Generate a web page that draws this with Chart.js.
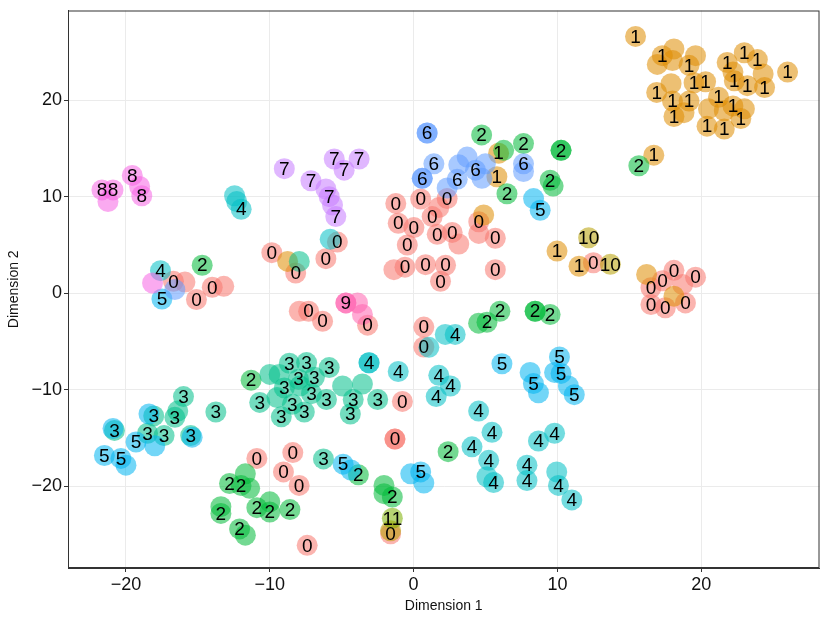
<!DOCTYPE html>
<html lang="en">
<head>
<meta charset="UTF-8">
<title>Digits embedding</title>
<script src="https://cdn.jsdelivr.net/npm/chart.js"></script>
<style>
  html, body { margin: 0; padding: 0; background: #fff; }
</style>
</head>
<body>
<canvas id="embed" width="830" height="623"></canvas>
<script>
// class names (factor order) and one small array of [dim1, dim2, labelShown] per class
const classes = ['0', '1', '10', '11', '2', '3', '4', '5', '6', '7', '8', '9'];

const pts0 = [[-1.24,9.3,1],[0.49,9.76,1],[-1.07,7.25,1],[0.02,6.8,1],[-0.44,5.0,1],[1.29,7.94,1],[1.75,8.87,0],
  [2.33,9.8,1],[1.64,6.1,1],[2.68,6.3,1],[3.14,5.1,0],[4.53,7.4,1],[4.53,6.2,0],[5.68,5.7,1],[-1.37,2.44,0],
  [-0.6,2.7,1],[0.83,2.96,1],[2.22,2.9,1],[1.87,1.24,1],[5.68,2.44,1],[-5.3,5.3,1],[-6.1,3.58,1],[-8.2,2.1,1],
  [-9.86,4.2,1],[-7.95,-1.86,0],[-7.3,-1.86,1],[-6.33,-2.9,1],[-3.2,-3.3,1],[0.71,-3.5,1],[0.71,-5.57,1],
  [-16.7,1.24,1],[-15.9,1.16,0],[-15.1,-0.65,1],[-14.0,0.62,1],[-13.2,0.72,0],[-0.78,-11.2,1],[-1.3,-15.1,0],
  [-1.3,-15.1,1],[-10.9,-17.1,1],[-8.4,-16.5,1],[-9.05,-18.5,1],[-7.96,-19.9,1],[-7.4,-26.1,1],[-1.6,-24.9,1],
  [12.5,3.16,1],[16.5,0.57,1],[17.3,1.3,1],[18.1,2.37,1],[19.6,1.67,1],[16.5,-1.16,1],[17.5,-1.5,1],
  [18.9,-1.0,1],[18.7,0.9,0]];
const pts1 = [[15.43,26.6,1],[17.29,24.6,1],[18.1,25.3,0],[16.94,23.7,0],[18.0,24.1,0],[19.6,24.6,0],[19.15,23.6,1],
  [21.8,23.9,1],[22.99,24.9,1],[23.9,24.2,1],[22.2,22.9,0],[24.3,22.7,0],[26.0,22.9,1],[22.3,22.0,1],[23.2,21.5,1],
  [24.4,21.3,1],[19.5,21.8,1],[20.3,21.9,1],[17.9,21.7,0],[16.9,20.8,1],[18.0,19.9,1],[19.15,19.9,1],[21.2,20.3,1],
  [22.2,19.4,1],[23.0,19.1,0],[20.5,19.1,0],[18.1,18.3,1],[18.8,18.7,0],[20.4,17.3,1],[21.6,17.0,1],[22.75,18.1,1],
  [21.6,18.9,0],[16.7,14.3,1],[5.91,14.5,1],[5.79,12.06,1],[4.87,8.1,0],[9.97,4.37,1],[11.5,2.8,1],[16.2,1.95,0],
  [18.1,-0.3,0],[-8.76,3.3,0]];
const pts10 = [[12.17,5.75,1],[13.68,3.0,1],[-1.6,-24.6,0]];
const pts11 = [[-1.48,-23.3,1]];
const pts2 = [[4.73,16.4,1],[6.26,14.8,0],[7.64,15.5,1],[6.49,10.3,1],[9.49,11.7,1],[9.7,11.1,0],[10.25,14.8,0],
  [10.25,14.8,1],[15.66,13.2,1],[-14.7,2.9,1],[-11.3,-9.0,1],[4.52,-3.1,0],[5.1,-3.0,1],[6.0,-1.86,1],
  [8.45,-1.86,0],[8.45,-1.86,1],[9.49,-2.2,1],[2.4,-16.4,1],[-3.84,-18.8,1],[-2.06,-19.9,0],[-2.06,-20.75,0],
  [-1.48,-21.1,1],[-12.8,-19.7,1],[-12.0,-19.9,1],[-11.7,-18.7,0],[-11.4,-20.2,0],[-13.4,-22.1,0],[-13.4,-22.8,1],
  [-12.1,-24.4,1],[-11.7,-25.05,0],[-10.9,-22.2,1],[-10.0,-21.6,0],[-10.0,-22.65,1],[-8.6,-22.4,1]];
const pts3 = [[-9.35,-8.4,0],[-10.0,-8.4,0],[-7.9,-9.6,0],[-9.5,-10.8,0],[-8.64,-7.25,1],[-7.44,-7.18,1],
  [-5.87,-7.7,1],[-8.0,-8.9,1],[-6.9,-8.7,1],[-8.99,-9.8,1],[-7.1,-10.4,1],[-6.06,-11.0,1],[-8.43,-11.5,1],
  [-7.6,-12.3,1],[-9.2,-12.8,1],[-10.7,-11.3,1],[-4.94,-9.6,0],[-3.56,-9.4,0],[-4.2,-11.0,1],[-4.4,-12.5,1],
  [-2.5,-11.0,1],[-6.27,-17.15,1],[-16.0,-10.7,1],[-16.4,-12.2,0],[-16.6,-12.85,1],[-18.07,-12.7,1],
  [-18.5,-14.5,1],[-17.35,-14.74,1],[-20.8,-14.2,1],[-15.5,-14.74,1],[-13.75,-12.3,1],[-7.95,3.3,0]];
const pts4 = [[-12.45,10.1,0],[-12.3,9.5,0],[-11.99,8.7,1],[-17.6,2.34,1],[-5.8,5.6,0],[-3.1,-7.2,0],[-3.1,-7.2,1],
  [-1.07,-8.1,1],[1.06,-5.6,0],[2.2,-4.26,0],[2.89,-4.26,1],[1.75,-8.5,1],[2.56,-9.6,1],[1.57,-10.7,1],
  [4.52,-12.2,1],[5.45,-14.4,1],[4.06,-15.9,1],[5.22,-17.3,1],[5.1,-19.0,0],[5.56,-19.6,1],[7.88,-17.8,1],
  [7.88,-19.4,1],[8.68,-15.3,1],[9.8,-14.5,1],[9.95,-18.5,0],[10.07,-19.9,1],[11.0,-21.4,1]];
const pts5 = [[8.8,8.6,1],[8.34,9.8,0],[6.14,-7.3,1],[8.1,-8.2,0],[8.33,-9.35,1],[8.68,-10.3,0],[10.14,-6.6,1],
  [10.25,-8.3,1],[9.8,-8.2,0],[10.76,-9.6,0],[11.17,-10.5,1],[0.49,-18.5,1],[-0.2,-18.7,0],[0.71,-19.65,0],
  [-4.9,-17.7,1],[-4.36,-18.3,0],[-17.5,-0.59,1],[-18.4,-12.5,0],[-18.0,-15.8,0],[-19.3,-15.4,1],
  [-21.5,-16.8,1],[-20.35,-17.1,1],[-20.0,-17.8,0],[-20.9,-14.0,0],[-15.4,-14.9,0]];
const pts6 = [[0.94,16.6,0],[0.94,16.6,1],[1.41,13.4,1],[0.6,11.9,0],[0.6,11.9,1],[3.72,14.1,0],[3.14,13.3,0],
  [4.99,13.4,0],[4.75,11.9,0],[2.33,10.9,0],[3.03,11.8,1],[4.3,12.75,1],[7.64,13.4,1],[7.64,12.6,0],
  [-16.6,0.38,0]];
const pts7 = [[-8.99,12.9,1],[-5.52,13.9,1],[-4.83,12.75,1],[-3.79,13.9,1],[-7.14,11.65,1],[-6.1,10.8,0],
  [-5.87,10.0,1],[-5.64,9.14,0],[-5.41,7.94,1]];
const pts8 = [[-21.67,10.7,1],[-20.9,10.7,1],[-21.25,9.5,0],[-19.56,12.2,1],[-19.05,11.06,0],[-18.9,10.1,1],
  [-18.15,1.06,0]];
const pts9 = [[-4.71,-1.0,0],[-4.71,-1.0,1],[-3.9,-1.0,0],[-3.56,-2.2,0]];

const groups = [pts0, pts1, pts10, pts11, pts2, pts3, pts4, pts5, pts6, pts7, pts8, pts9];
const palette = ['#F8766D', '#DE8C00', '#B79F00', '#7CAE00', '#00BA38', '#00C08B',
                 '#00BFC4', '#00B4F0', '#619CFF', '#C77CFF', '#F564E3', '#FF64B0'];

function fade(hex, a) {
  const n = parseInt(hex.slice(1), 16);
  return 'rgba(' + (n >> 16) + ',' + ((n >> 8) & 255) + ',' + (n & 255) + ',' + a + ')';
}

const points = [];
groups.forEach((g, k) => g.forEach(p => points.push({ x: p[0], y: p[1], k: k, shown: p[2] })));

const minus = v => (v < 0 ? '\u2212' + Math.abs(v) : '' + v);

// frame round the panel + digit text on each labelled point
const panelFrame = {
  id: 'panelFrame',
  afterDatasetsDraw(chart) {
    const c = chart.ctx;
    const meta = chart.getDatasetMeta(0);
    c.save();
    c.fillStyle = '#000';
    c.font = '19px "Liberation Sans", Arial, sans-serif';
    c.textAlign = 'center';
    c.textBaseline = 'middle';
    meta.data.forEach((el, i) => {
      const p = points[i];
      if (p.shown) c.fillText(classes[p.k], el.x, el.y + 1);
    });
    const a = chart.chartArea;
    c.strokeStyle = '#333';
    c.lineWidth = 1;
    c.strokeRect(a.left + 0.5, a.top + 0.5, a.right - a.left - 1, a.bottom - a.top - 1);
    c.restore();
  }
};

const tickFont = { family: '"Liberation Sans", Arial, sans-serif', size: 18 };
const titleFont = { family: '"Liberation Sans", Arial, sans-serif', size: 14 };

new Chart(document.getElementById('embed'), {
  type: 'scatter',
  data: {
    datasets: [{
      data: points,
      pointRadius: 10.5,
      pointHoverRadius: 10.5,
      borderWidth: 0,
      backgroundColor: ctx => fade(palette[points[ctx.dataIndex].k], 0.55)
    }]
  },
  options: {
    responsive: false,
    animation: false,
    devicePixelRatio: 1,
    layout: { padding: { top: 8, right: 8, left: 0, bottom: 0 } },
    plugins: { legend: { display: false }, tooltip: { enabled: false } },
    scales: {
      x: {
        type: 'linear',
        min: -24.03,
        max: 28.22,
        afterFit: s => { s.height = 55; s.paddingLeft = 0; s.paddingRight = 0; },
        ticks: { stepSize: 10, includeBounds: false, color: '#111', padding: 2, font: tickFont, callback: minus },
        grid: { color: '#EBEBEB', lineWidth: 1, tickColor: '#333', tickLength: 4 },
        border: { color: '#333', width: 1 },
        title: { display: true, text: 'Dimension 1', color: '#111', padding: { top: 2, bottom: 8 }, font: titleFont }
      },
      y: {
        type: 'linear',
        min: -28.45,
        max: 29.28,
        afterFit: s => { s.width = 68; s.paddingTop = 0; s.paddingBottom = 0; },
        ticks: { stepSize: 10, includeBounds: false, color: '#111', padding: 2, font: tickFont, callback: minus },
        grid: { color: '#EBEBEB', lineWidth: 1, tickColor: '#333', tickLength: 4 },
        border: { color: '#333', width: 1 },
        title: { display: true, text: 'Dimension 2', color: '#111', padding: { top: 6, bottom: 4 }, font: titleFont }
      }
    }
  },
  plugins: [panelFrame]
});
</script>
</body>
</html>
